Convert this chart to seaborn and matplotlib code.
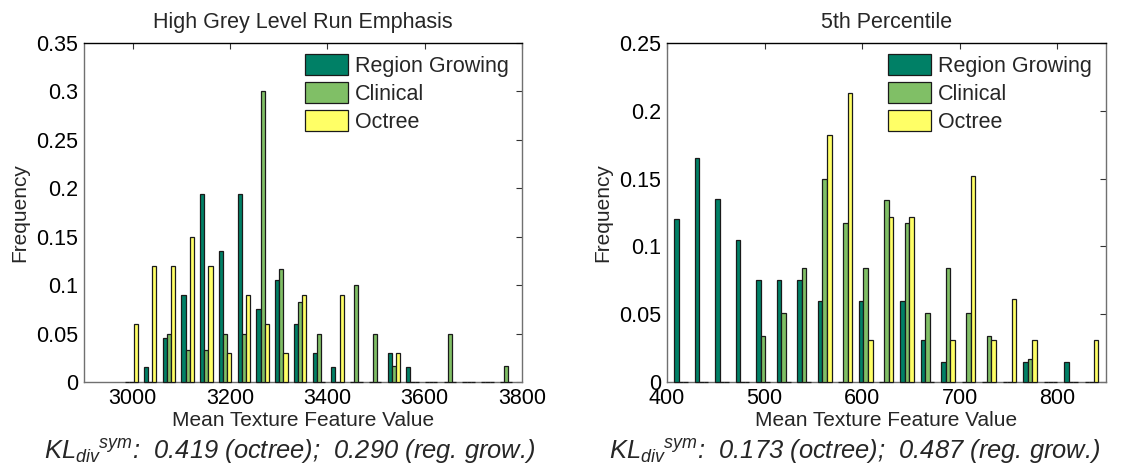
import numpy as np
import pandas as pd
import matplotlib
matplotlib.use("Agg")
import matplotlib.pyplot as plt
import seaborn as sns
from matplotlib.ticker import FuncFormatter

# ---------------- data ----------------
series_names = ["Region Growing", "Clinical", "Octree"]
series_colors = ["#008066", "#80BF66", "#FFFF66"]

left_title = "High Grey Level Run Emphasis"
left_centers = [2997.5, 3036.0, 3074.5, 3113.0, 3151.5, 3190.0, 3228.5, 3267.0,
                3305.5, 3344.0, 3382.5, 3421.0, 3459.5, 3498.0, 3536.5, 3575.0,
                3613.5, 3652.0, 3690.5, 3729.0, 3767.5]
left_rg = [0.0, 0.015, 0.045, 0.09, 0.194, 0.135, 0.194, 0.075, 0.105, 0.06,
           0.03, 0.015, 0.0, 0.0, 0.03, 0.015, 0.0, 0.0, 0.0, 0.0, 0.0]
left_clin = [0.0, 0.0, 0.05, 0.033, 0.033, 0.05, 0.05, 0.30, 0.117, 0.083,
             0.05, 0.0, 0.10, 0.05, 0.017, 0.0, 0.0, 0.05, 0.0, 0.0, 0.017]
left_oct = [0.06, 0.12, 0.12, 0.15, 0.12, 0.03, 0.09, 0.06, 0.03, 0.09,
            0.0, 0.09, 0.0, 0.0, 0.03, 0.0, 0.0, 0.0, 0.0, 0.0, 0.0]
left_xticks = [3000, 3200, 3400, 3600, 3800]
left_yticks = [0, 0.05, 0.1, 0.15, 0.2, 0.25, 0.3, 0.35]
left_note = r"$KL_{div}{}^{sym}$:  0.419 (octree);  0.290 (reg. grow.)"

right_title = "5th Percentile"
right_centers = [414.40, 435.44, 456.48, 477.52, 498.56, 519.60, 540.64, 561.68,
                 582.72, 603.76, 624.80, 645.84, 666.88, 687.92, 708.96, 730.00,
                 751.04, 772.08, 793.12, 814.16, 835.20]
right_rg = [0.12, 0.165, 0.135, 0.105, 0.075, 0.075, 0.075, 0.06, 0.0, 0.06,
            0.0, 0.06, 0.031, 0.015, 0.0, 0.0, 0.0, 0.015, 0.0, 0.015, 0.0]
right_clin = [0.0, 0.0, 0.0, 0.0, 0.034, 0.051, 0.084, 0.15, 0.117, 0.084,
              0.134, 0.117, 0.051, 0.084, 0.051, 0.034, 0.0, 0.017, 0.0, 0.0, 0.0]
right_oct = [0.0, 0.0, 0.0, 0.0, 0.0, 0.0, 0.0, 0.182, 0.213, 0.031,
             0.122, 0.122, 0.0, 0.031, 0.152, 0.031, 0.061, 0.031, 0.0, 0.0, 0.031]
right_xticks = [400, 500, 600, 700, 800]
right_yticks = [0, 0.05, 0.1, 0.15, 0.2, 0.25]
right_note = r"$KL_{div}{}^{sym}$:  0.173 (octree);  0.487 (reg. grow.)"

xlabel = "Mean Texture Feature Value"
ylabel = "Frequency"

# ---------------- style ----------------
sns.set_theme(style="white")
plt.rcParams["font.family"] = ["Liberation Sans", "DejaVu Sans"]
plt.rcParams["mathtext.fontset"] = "custom"
plt.rcParams["mathtext.rm"] = "Liberation Sans:italic"
plt.rcParams["mathtext.it"] = "Liberation Sans:italic"
plt.rcParams["mathtext.bf"] = "Liberation Sans:italic:bold"

fig = plt.figure(figsize=(11.28, 4.70), dpi=100)
ax_l = fig.add_axes([84 / 1128, 1 - 382 / 470, 438 / 1128, 339 / 470])
ax_r = fig.add_axes([667 / 1128, 1 - 382 / 470, 439 / 1128, 339 / 470])


def make_df(centers, rg, clin, octv):
    rows = []
    for name, vals in zip(series_names, [rg, clin, octv]):
        for c, v in zip(centers, vals):
            rows.append({"x": c, "y": v, "series": name})
    return pd.DataFrame(rows)


def draw(ax, centers, rg, clin, octv, xlim, ylim, xticks, yticks, title, leg_x):
    df = make_df(centers, rg, clin, octv)
    sns.barplot(data=df, x="x", y="y", hue="series", hue_order=series_names,
                palette=series_colors, native_scale=True, orient="x",
                width=0.667, dodge=True, errorbar=None, ax=ax,
                edgecolor="#1a1a1a", linewidth=0.9, saturation=1)
    for p in ax.patches:
        p.set_zorder(3)
        p.set_clip_on(False)
    ax.set_xlim(*xlim)
    ax.set_ylim(*ylim)
    ax.set_xticks(xticks)
    ax.set_yticks(yticks)
    ax.yaxis.set_major_formatter(FuncFormatter(lambda v, p: "%g" % round(v, 4)))
    ax.tick_params(direction="in", length=4, width=0.8, top=True, right=True,
                   labelsize=15.5, colors="#333333", labelcolor="black", pad=4)
    for side in ["left", "bottom", "right"]:
        ax.spines[side].set_color("#707070")
        ax.spines[side].set_linewidth(1.0)
    ax.spines["top"].set_color("black")
    ax.spines["top"].set_linewidth(1.0)
    ax.set_title(title, fontsize=15.5, pad=11)
    ax.set_xlabel(xlabel, fontsize=15, labelpad=2)
    ax.set_ylabel(ylabel, fontsize=15, labelpad=5)
    handles, labels = ax.get_legend_handles_labels()
    ax.legend(handles, labels, loc="upper left", bbox_to_anchor=(leg_x, 0.9676),
              frameon=False, fontsize=15.5, handlelength=2.0, handleheight=1.1,
              handletextpad=0.3, labelspacing=0.25, borderpad=0, borderaxespad=0)


draw(ax_l, left_centers, left_rg, left_clin, left_oct, (2900, 3800), (0, 0.35),
     left_xticks, left_yticks, left_title, 0.5046)
draw(ax_r, right_centers, right_rg, right_clin, right_oct, (400, 850), (0, 0.25),
     right_xticks, right_yticks, right_title, 0.504)

fig.text(290 / 1128, 1 - 452 / 470, left_note, ha="center", va="center",
         fontsize=18.4, style="italic")
fig.text(855 / 1128, 1 - 452 / 470, right_note, ha="center", va="center",
         fontsize=18.4, style="italic")

fig.savefig("out.png", dpi=100, facecolor="white")
